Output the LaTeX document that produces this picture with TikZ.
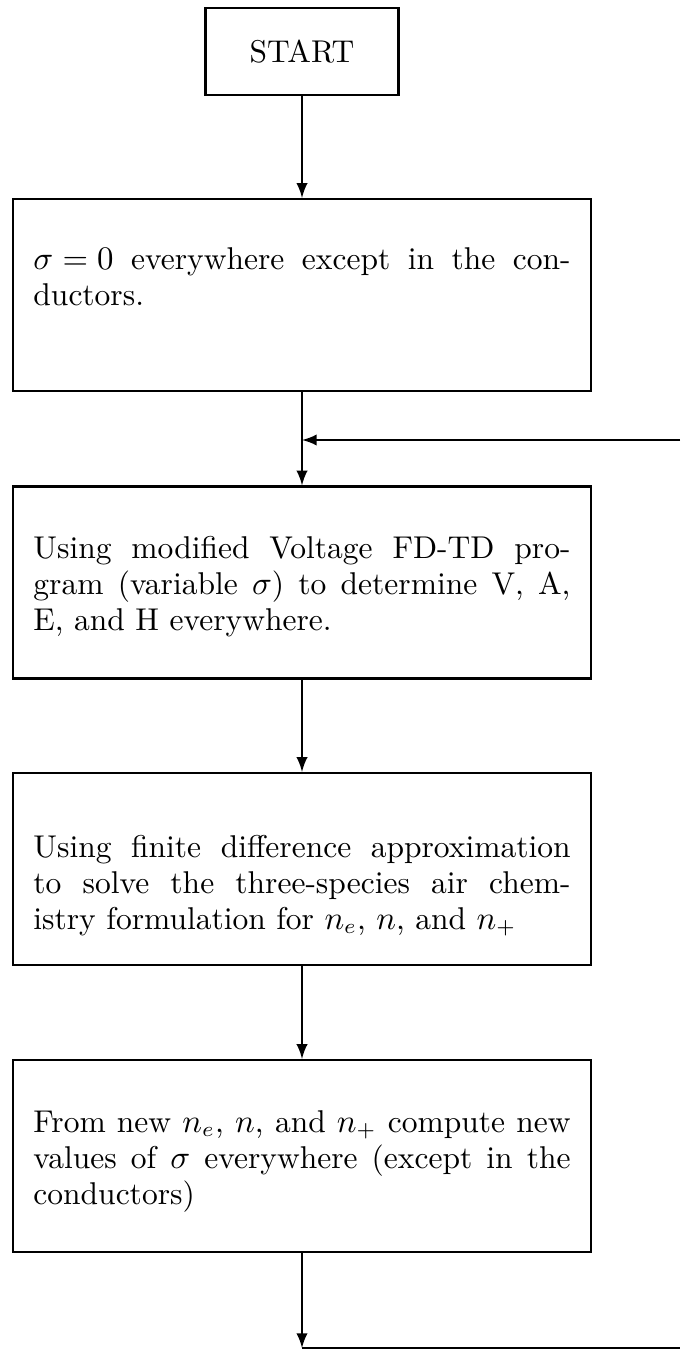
\documentclass[tikz,border=0pt]{standalone}
\usetikzlibrary{arrows}
\begin{document}
\begin{tikzpicture}[x=0.3333pt,y=-0.3333pt,>=latex,line width=0.7pt,
    box/.style={draw,align=justify,text width=179pt,minimum width=192.7pt,
      minimum height=64pt,inner sep=0pt,font=\fontsize{10.5}{12}\selectfont},
    start box/.style={draw,minimum width=64.3pt,minimum height=29pt,inner sep=0pt,
      font=\fontsize{10.5}{12}\selectfont}]

  \useasboundingbox (0,0) rectangle (680,1351);

  \coordinate (loop in)  at (680,440);
  \coordinate (loop out) at (680,1348);

  \node[start box] (Start) at (302,51.5) {START};

  \node[box,text height=6.7pt,text depth=24pt] (Init) at (302,295)
    {{\thickmuskip=5mu $\sigma = 0$} everywhere except in the con-\linebreak ductors.};

  \node[box,text height=12.3pt,text depth=28pt] (Voltage) at (302,582.5)
    {Using modified Voltage FD-TD pro-\linebreak
      gram (variable $\sigma$) to determine V, A,\linebreak
      E, and H everywhere.};

  \node[box,text height=20pt,text depth=28pt] (Chemistry) at (302,869)
    {Using finite difference approximation\linebreak
      to solve the three-species air chem-\linebreak
      istry formulation for $n_e$, $n$, and $n_+$};

  \node[box,text height=12pt,text depth=28pt] (Sigma) at (302,1156)
    {From new $n_e$, $n$, and $n_+$ compute new\linebreak
      values of $\sigma$ everywhere (except in the\linebreak
      conductors)};

  \draw[->] (Start) -- (Init);
  \draw[->] (Init) -- (Voltage);
  \draw[->] (loop in) -- (loop in -| Init.south);
  \draw[->] (Voltage) -- (Chemistry);
  \draw[->] (Chemistry) -- (Sigma);

  % back to the top of the loop
  \draw[->] (Sigma.south) -- (Sigma.south |- loop out);
  \draw (Sigma.south |- loop out) -- (loop out);
\end{tikzpicture}
\end{document}
